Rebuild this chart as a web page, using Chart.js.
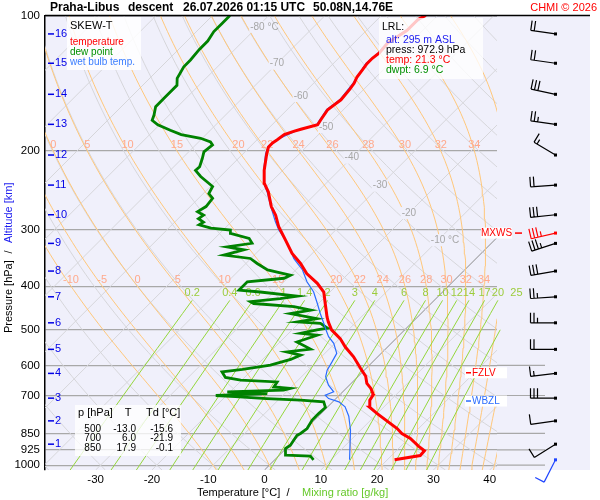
<!DOCTYPE html>
<html>
<head>
<meta charset="utf-8">
<script src="https://cdn.jsdelivr.net/npm/chart.js@4.4.1/dist/chart.umd.min.js"></script>
<style>
  html, body { margin: 0; padding: 0; background: #fff; }
</style>
</head>
<body>
<canvas id="skewt" width="600" height="500"></canvas>
<script>
// sounding Praha-Libus, values
const tempP = [973, 952, 929, 907, 872, 850, 829, 767, 743, 717, 700, 692, 675, 658, 634, 608, 574, 546, 523, 500,
  480, 468, 437, 412, 394, 375, 356, 338, 316, 295, 278, 266, 247, 236, 221, 203, 196, 192, 189, 184,
  181, 179, 175, 171, 162, 158, 154, 146, 141.5, 137, 132, 128, 124.5, 121, 115, 108, 102, 100];
const tempT = [21.3, 25.1, 25.0, 23.1, 20.3, 17.9, 16.2, 9.9, 7.5, 6.3, 6.0, 5.6, 4.4, 2.8, 1.3, -1.1, -4.3, -7.5, -9.9, -13.0,
  -15.0, -16.1, -18.8, -21.1, -23.8, -27.4, -30.3, -33.6, -37.1, -40.7, -43.3, -45.6, -48.7, -51.0, -53.3, -55.8, -56.7, -56.7, -56.4, -56.1,
  -55.0, -54.1, -51.9, -52.2, -52.8, -52.5, -52.2, -52.5, -52.8, -53.4, -53.7, -54.0, -54.0, -53.7, -54.0, -52.8, -52.8, -52.1];

const dewP = [973, 955, 950, 918, 903, 858, 850, 829, 794, 767, 744, 723, 717, 711, 704, 700, 693, 687, 681, 675,
  670, 653, 647, 638, 620, 612, 599, 582, 569, 560, 552, 532, 514, 509, 500, 496, 484, 480, 472, 460,
  452, 444, 437, 433, 426, 421, 412, 408, 391, 384, 378, 375, 368, 356, 347, 341, 332, 327, 321, 313,
  305, 300, 297, 292, 288, 283, 278, 273, 266, 255, 249, 240, 228, 221, 217, 208, 201, 194, 191, 187.5,
  184, 180, 175, 171, 166.5, 159.5, 153, 148, 143, 138, 130, 125.6, 119, 114, 108.6, 104, 100];
const dewT = [6.9, 5.7, 1.1, -0.1, 0.2, -0.4, -0.1, 0.2, -0.4, -0.4, -0.3, -1.6, -6.0, -12.3, -18.2, -21.9, -13.1, -20.5, -10.8, -9.9,
  -13.1, -13.4, -20.2, -23.4, -25.0, -21.8, -17.6, -15.0, -14.0, -17.0, -13.3, -17.0, -14.6, -17.9, -15.6, -14.0, -16.1, -20.5, -17.6, -23.2,
  -20.2, -23.8, -31.5, -32.4, -27.7, -25.1, -32.4, -36.5, -36.5, -30.6, -30.0, -31.5, -35.0, -38.0, -40.1, -45.4, -42.8, -46.3, -42.5, -43.9,
  -48.1, -48.7, -52.5, -55.2, -54.9, -56.4, -56.1, -57.8, -57.2, -57.5, -59.0, -59.6, -63.5, -65.5, -65.4, -66.4, -67.3, -67.0, -67.9, -70.3,
  -74.4, -77.1, -80.3, -82.1, -82.7, -83.9, -83.9, -83.9, -83.9, -85.1, -86.0, -86.0, -86.3, -86.3, -86.9, -86.9, -86.9];

const wetP = [973, 836, 778, 742, 723, 711, 699, 687, 664, 636, 615, 590, 564, 536, 518, 500, 484, 460, 437, 412,
  391, 368, 347, 332, 316, 300, 288, 266, 247, 236, 221, 203, 196, 189, 179, 175, 162, 154, 141.5, 128,
  121, 115, 108, 100];
const wetT = [13.3, 8.2, 5.4, 3.1, 1.1, -1.3, -2.5, -1.6, -3.7, -5.7, -6.6, -7.2, -7.9, -10.2, -12.3, -14.0, -15.5, -17.9, -20.2, -22.9,
  -25.9, -28.8, -32.4, -34.5, -37.1, -40.1, -42.1, -45.7, -48.9, -51.1, -53.4, -56.0, -56.8, -56.5, -54.3, -52.1, -53.0, -52.4, -53.0, -54.2,
  -53.9, -54.2, -53.0, -52.3];

// lowest reported level
const lrlAlt = 295;
const lrlPress = 972.9;

// altitude marks (km) and wind
const altKm = [1, 2, 3, 4, 5, 6, 7, 8, 9, 10, 11, 12, 13, 14, 15, 16];
const altP = [898, 797, 709.5, 625, 552.6, 482.4, 422.2, 370.1, 321.2, 277.4, 238.3, 204.3, 174.6, 149.7, 127.7, 109.9];
const windP = [973, 898, 797, 709.5, 625, 552.6, 482.4, 422.2, 370.1, 321.2, 277.4, 238.3, 204.3, 174.6, 149.7, 127.7, 109.9];
const windDir = [207, 238, 262, 270, 263, 270, 270, 266, 260, 252, 264, 266, 301, 278, 282, 278, 278];
const windKt = [10, 10, 10, 30, 15, 20, 25, 25, 30, 35, 30, 20, 15, 25, 30, 20, 20];
const maxWind = { p: 304.7, dir: 257, kt: 35 };
const fzlvP = 623;
const wbzlP = 720;

// standard level table
const tableP = [500, 700, 850];
const tableT = [-13.0, 6.0, 17.9];
const tableTd = [-15.6, -21.9, -0.1];

// ticks and reference line sets
const xTicks = [-30, -20, -10, 0, 10, 20, 30, 40];
const pTicks = [100, 200, 300, 400, 500, 600, 700, 850, 925, 1000];
const extLevels = [600, 700, 850, 925, 1000];
const isoT = [-120, -110, -100, -90, -80, -70, -60, -50, -40, -30, -20, -10, 0, 10, 20, 30, 40];
const isoLabT = [-80, -70, -60, -50, -40, -30, -20, -10];
const isoLabP = [106, 128, 151, 177, 207, 239, 275, 316];
const dryTheta = [-40, -30, -20, -10, 0, 10, 20, 30, 40, 50, 60, 70, 80, 90, 100, 110, 120, 130, 140, 150, 160, 170, 180];
const wetTheta = [-10, -5, 0, 5, 10, 15, 20, 22, 24, 26, 28, 30, 32, 34, 36, 38, 40];
const wetLab200 = [0, 5, 10, 15, 20, 22, 24, 26, 28, 30, 32, 34];
const wetLab400 = [-10, -5, 0, 5, 10, 15, 20, 22, 24, 26, 28, 30, 32, 34];
const mixR = [0.2, 0.4, 0.6, 1, 1.4, 2, 3, 4, 6, 8, 10, 12, 14, 17, 20, 25];

const FONT = '"Liberation Sans", Arial, sans-serif';
const PLOT_BG = '#f0f0fb';
const PBOT = 1025;
const SKEW = 79.9; // degC per pressure decade (45 deg skew)

function sx(t, p) { return t + SKEW * Math.log10(PBOT / p); }
function pts(P, T) { return P.map((p, i) => ({ x: sx(T[i], p), y: p })); }

const curveP = [];
for (let lp = Math.log(PBOT); lp > Math.log(100); lp -= 0.04) curveP.push(Math.exp(lp));
curveP.push(100);

function dryT(thC, p) { return (thC + 273.15) * Math.pow(p / 1000, 0.2857) - 273.15; }

function lapse(tk, p) {
  const es = 6.112 * Math.exp(17.67 * (tk - 273.15) / (tk - 29.65));
  const rs = 0.622 * es / (p - es);
  const L = 2.501e6;
  return (287.04 * tk + L * rs) / (1005.7 + L * L * rs * 0.622 / (287.04 * tk * tk));
}
function rk(tk, lp, h) {
  const k1 = lapse(tk, Math.exp(lp));
  const k2 = lapse(tk + k1 * h / 2, Math.exp(lp + h / 2));
  return tk + k2 * h;
}
function moistT(twC, p) {
  let tk = twC + 273.15, lp = Math.log(1000);
  const target = Math.log(p);
  const dir = target < lp ? -1 : 1;
  while (Math.abs(target - lp) > 1e-9) {
    const h = dir * Math.min(0.01, Math.abs(target - lp));
    tk = rk(tk, lp, h); lp += h;
  }
  return tk - 273.15;
}
function moistCurve(twC) {
  const out = [{ x: sx(moistT(twC, PBOT), PBOT), y: PBOT }];
  let tk = twC + 273.15, lp = Math.log(1000);
  out.push({ x: sx(twC, 1000), y: 1000 });
  let n = 0;
  while (lp > Math.log(100) + 1e-9) {
    const h = -Math.min(0.01, lp - Math.log(100));
    tk = rk(tk, lp, h); lp += h; n++;
    if (n % 3 === 0 || lp <= Math.log(100) + 1e-9) out.push({ x: sx(tk - 273.15, Math.exp(lp)), y: Math.exp(lp) });
  }
  return out;
}
function tdFromW(w, p) {
  const l = Math.log(w * p / (622 + w) / 6.112);
  return 243.5 * l / (17.67 - l);
}
const mixP = [PBOT, 950, 900, 850, 800, 750, 700, 650, 600, 550, 500, 460, 430];

function line(data, color, width, extra) {
  return Object.assign({ data, showLine: true, borderColor: color, borderWidth: width,
    pointRadius: 0, fill: false, tension: 0 }, extra || {});
}

const datasets = [
  line(pts(tempP, tempT), '#ff0000', 3),
  line(pts(wetP, wetT), '#2a6cff', 1.2),
  line(pts(dewP, dewT), '#008200', 2.8),
  ...mixR.map(w => line(mixP.map(p => ({ x: sx(tdFromW(w, p), p), y: p })), '#94d63c', 1,
    { clip: { left: 0, top: 0, right: 30, bottom: 0 } })),
  ...wetTheta.map(t => line(moistCurve(t), '#ffc77a', 1)),
  ...dryTheta.map(t => line(curveP.map(p => ({ x: sx(dryT(t, p), p), y: p })), '#d6d6da', 1)),
  ...isoT.map(t => line([{ x: sx(t, PBOT), y: PBOT }, { x: sx(t, 100), y: 100 }],
    t === 0 ? '#8a8a8a' : '#d6d6da', 1))
];

function bgLabels(chart) {
  const { ctx, scales: { x, y } } = chart;
  ctx.save();
  ctx.textAlign = 'center'; ctx.textBaseline = 'middle';
  ctx.font = '11px ' + FONT;
  // moist adiabat labels
  ctx.fillStyle = '#ffa98c';
  wetLab200.forEach(t => {
    ctx.fillText(String(t), x.getPixelForValue(sx(moistT(t, 200), 200)), y.getPixelForValue(200) - 6);
  });
  wetLab400.forEach(t => {
    ctx.fillText(String(t), x.getPixelForValue(sx(moistT(t, 400), 400)), y.getPixelForValue(400) - 6);
  });
  // mixing ratio labels
  ctx.fillStyle = '#9ccc3c';
  mixR.forEach(w => {
    ctx.fillText(String(w), x.getPixelForValue(sx(tdFromW(w, 430), 430)), y.getPixelForValue(430) - 7);
  });
  // isotherm labels
  ctx.font = '10px ' + FONT;
  isoLabT.forEach((t, i) => {
    const px = x.getPixelForValue(sx(t, isoLabP[i]));
    const py = y.getPixelForValue(isoLabP[i]);
    const s = String(t);
    const w = ctx.measureText(s).width;
    ctx.fillStyle = PLOT_BG;
    ctx.fillRect(px - w / 2 - 1, py - 6, w + 2, 12);
    ctx.fillStyle = '#a6a6a6';
    ctx.fillText(s, px, py);
    if (i === 0 || i === isoLabT.length - 1) {
      ctx.textAlign = 'left';
      ctx.fillText(' \u00b0C', px + w / 2, py);
      ctx.textAlign = 'center';
    }
  });
  ctx.restore();
}

function drawBarb(ctx, x0, y0, dir, kt, color) {
  const r = dir * Math.PI / 180;
  const ux = Math.sin(r), uy = -Math.cos(r);
  const px = -uy, py = ux;
  const ex = x0 + ux * 25, ey = y0 + uy * 25;
  ctx.strokeStyle = color; ctx.fillStyle = color; ctx.lineWidth = 1.2;
  ctx.beginPath();
  ctx.moveTo(x0, y0); ctx.lineTo(ex, ey);
  let d = 0;
  for (let i = 0; i < Math.floor(kt / 10); i++) {
    const bx = ex - ux * d, by = ey - uy * d;
    ctx.moveTo(bx, by); ctx.lineTo(bx + px * 10, by + py * 10);
    d += 3.5;
  }
  if (kt % 10 >= 5) {
    const bx = ex - ux * d, by = ey - uy * d;
    ctx.moveTo(bx, by); ctx.lineTo(bx + px * 5, by + py * 5);
  }
  ctx.stroke();
  ctx.fillRect(x0 - 1.5, y0 - 1.5, 3, 3);
}

const deco = {
  id: 'deco',
  beforeDraw(chart) {
    const { ctx, chartArea: a } = chart;
    ctx.save();
    ctx.fillStyle = '#fff';
    ctx.fillRect(0, 0, chart.width, chart.height);
    ctx.fillStyle = PLOT_BG;
    ctx.fillRect(a.left, a.top, 590 - a.left, a.bottom - a.top);
    ctx.restore();
  },
  beforeDatasetsDraw(chart) {
    const { ctx, chartArea: a, scales: { y } } = chart;
    ctx.save();
    ctx.strokeStyle = '#a8a8a8'; ctx.lineWidth = 1.2;
    extLevels.forEach(p => {
      const yy = y.getPixelForValue(p);
      ctx.beginPath(); ctx.moveTo(a.right, yy); ctx.lineTo(545, yy); ctx.stroke();
    });
    ctx.restore();
  },
  beforeDatasetDraw(chart, args) {
    if (args.index === 2) bgLabels(chart);
  },
  afterDraw(chart) {
    const { ctx, chartArea: a, scales: { y } } = chart;
    ctx.save();
    ctx.textBaseline = 'middle';

    // top border
    ctx.strokeStyle = '#000'; ctx.lineWidth = 1.5;
    ctx.beginPath(); ctx.moveTo(a.left, a.top); ctx.lineTo(590, a.top); ctx.stroke();

    // altitude marks
    ctx.font = '11px ' + FONT; ctx.textAlign = 'left';
    altKm.forEach((k, i) => {
      const yy = y.getPixelForValue(altP[i]);
      ctx.fillStyle = '#0000e6';
      ctx.fillRect(a.left + 3, yy - 0.75, 6, 1.5);
      ctx.fillText(String(k), a.left + 10, yy);
    });

    // legend box
    ctx.fillStyle = 'rgba(255,255,255,0.85)';
    ctx.fillRect(67, 17, 74, 53);
    ctx.fillStyle = '#000'; ctx.font = '11px ' + FONT;
    ctx.fillText('SKEW-T', 70, 26);
    ctx.font = '10px ' + FONT;
    ctx.fillStyle = '#ff0000'; ctx.fillText('temperature', 70, 42);
    ctx.fillStyle = '#009000'; ctx.fillText('dew point', 70, 52);
    ctx.fillStyle = '#3a7dff'; ctx.fillText('wet bulb temp.', 70, 62);

    // lowest reported level box
    ctx.fillStyle = 'rgba(255,255,255,0.78)';
    ctx.fillRect(379, 18, 104, 61);
    ctx.font = '10.5px ' + FONT;
    ctx.fillStyle = '#000'; ctx.fillText('LRL:', 382, 27);
    ctx.fillStyle = '#2020f0'; ctx.fillText('alt: ' + lrlAlt + ' m ASL', 386, 40);
    ctx.fillStyle = '#000'; ctx.fillText('press: ' + lrlPress.toFixed(1) + ' hPa', 386, 50);
    ctx.fillStyle = '#ff0000'; ctx.fillText('temp: ' + tempT[0].toFixed(1) + ' \u00b0C', 386, 60);
    ctx.fillStyle = '#009000'; ctx.fillText('dwpt: ' + dewT[0].toFixed(1) + ' \u00b0C', 386, 70);

    // standard levels table
    ctx.fillStyle = 'rgba(255,255,255,0.78)';
    ctx.fillRect(75, 405, 106, 51);
    ctx.fillStyle = '#000'; ctx.font = '11px ' + FONT;
    ctx.textAlign = 'left'; ctx.fillText('p [hPa]', 78, 413);
    ctx.textAlign = 'center'; ctx.fillText('T', 128, 413);
    ctx.textAlign = 'left'; ctx.fillText('Td [\u00b0C]', 146, 413);
    ctx.font = '10px ' + FONT; ctx.textAlign = 'right';
    tableP.forEach((p, i) => {
      const yy = 429 + i * 9.6;
      ctx.fillText(String(p), 101, yy);
      ctx.fillText(tableT[i].toFixed(1), 136, yy);
      ctx.fillText(tableTd[i].toFixed(1), 173, yy);
    });

    // level markers
    ctx.font = '10px ' + FONT;
    let yy = y.getPixelForValue(maxWind.p);
    ctx.fillStyle = '#fff'; ctx.fillRect(481, yy - 5.5, 31, 11);
    ctx.fillStyle = '#ff0000'; ctx.textAlign = 'center'; ctx.fillText('MXWS', 496.5, yy);
    ctx.fillRect(515, yy - 0.75, 7, 1.5);
    [[fzlvP, 'FZLV', '#ff0000'], [wbzlP, 'WBZL', '#2a6cff']].forEach(([p, s, c]) => {
      const ly = y.getPixelForValue(p);
      ctx.fillStyle = '#fff'; ctx.fillRect(465, ly - 5.5, 42, 11);
      ctx.fillStyle = c; ctx.fillRect(466, ly - 0.75, 5, 1.5);
      ctx.textAlign = 'left'; ctx.fillText(s, 472, ly);
    });

    // wind barbs
    windP.forEach((p, i) => {
      drawBarb(ctx, 555.5, y.getPixelForValue(p), windDir[i], windKt[i], i === 0 ? '#1f45ff' : '#000');
    });
    drawBarb(ctx, 555.5, y.getPixelForValue(maxWind.p), maxWind.dir, maxWind.kt, '#ff0000');

    // title
    ctx.fillStyle = '#000'; ctx.textAlign = 'left';
    ctx.font = 'bold 12px ' + FONT;
    ctx.fillText('Praha-Libus', 50, 7.5);
    ctx.fillText('descent', 128, 7.5);
    ctx.fillText('26.07.2026 01:15 UTC', 183, 7.5);
    ctx.fillText('50.08N,14.76E', 313, 7.5);
    ctx.font = '11px ' + FONT; ctx.fillStyle = '#ff0000'; ctx.textAlign = 'right';
    ctx.fillText('CHMI \u00a9 2026', 597, 7.5);

    // axis titles
    ctx.font = '11px ' + FONT; ctx.textAlign = 'left';
    ctx.fillStyle = '#000'; ctx.fillText('Temperature [\u00b0C]', 197, 493);
    ctx.textAlign = 'center'; ctx.fillText('/', 288, 493);
    ctx.textAlign = 'left'; ctx.fillStyle = '#66c92a'; ctx.fillText('Mixing ratio [g/kg]', 302, 493);

    ctx.translate(9, 258); ctx.rotate(-Math.PI / 2);
    ctx.fillStyle = '#000'; ctx.textAlign = 'left'; ctx.fillText('Pressure [hPa]', -75, 0);
    ctx.textAlign = 'center'; ctx.fillText('/', 6, 0);
    ctx.textAlign = 'left'; ctx.fillStyle = '#2020f0'; ctx.fillText('Altitude [km]', 15, 0);
    ctx.restore();
  }
};

Chart.defaults.font.family = FONT;
Chart.defaults.color = '#000';

new Chart(document.getElementById('skewt'), {
  type: 'scatter',
  data: { datasets },
  options: {
    responsive: false,
    animation: false,
    events: [],
    layout: { padding: { left: 0, right: 103, top: 15.5, bottom: 0 } },
    plugins: { legend: { display: false }, tooltip: { enabled: false } },
    scales: {
      x: {
        type: 'linear', min: -39, max: 41.3,
        afterBuildTicks: s => { s.ticks = xTicks.map(v => ({ value: v })); },
        afterFit: s => { s.height = 30; },
        grid: { display: false, drawTicks: false },
        border: { display: false },
        ticks: { padding: 3, font: { size: 11.5 }, color: '#000' }
      },
      y: {
        type: 'logarithmic', reverse: true, min: 100, max: PBOT,
        afterBuildTicks: s => { s.ticks = pTicks.map(v => ({ value: v })); },
        afterFit: s => { s.width = 45; },
        grid: {
          color: c => (c.tick && c.tick.value === 100 ? '#000' : '#a8a8a8'),
          lineWidth: 1.2, drawTicks: false
        },
        border: { color: '#000', width: 1.5 },
        ticks: { padding: 5, autoSkip: false, font: { size: 11.5 }, color: '#000', callback: v => String(v) }
      }
    }
  },
  plugins: [deco]
});
</script>
</body>
</html>
